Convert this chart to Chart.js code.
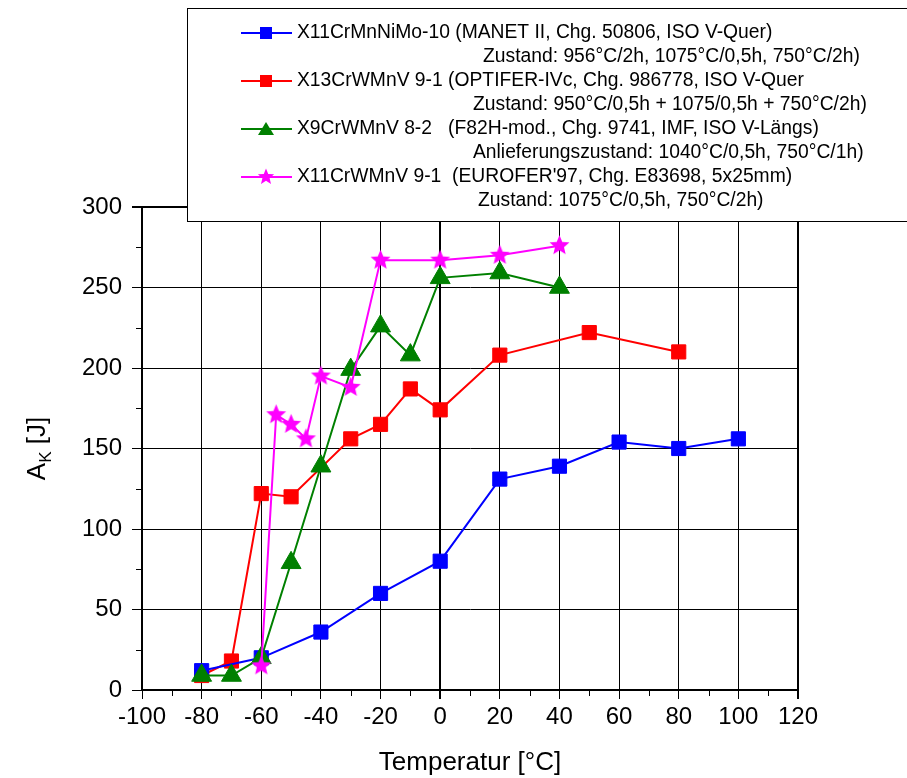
<!DOCTYPE html>
<html>
<head>
<meta charset="utf-8">
<script src="https://cdn.jsdelivr.net/npm/chart.js@4/dist/chart.umd.min.js"></script>
<style>
body { margin: 0; background: #fff; }
</style>
</head>
<body>
<canvas id="akChart" width="907" height="778"></canvas>
<script>
// 温度 [°C] と衝撃エネルギー A_K [J]
const tempManet = [-80, -60, -40, -20, 0, 20, 40, 60, 80, 100];
const akManet = [12, 20, 36, 60, 80, 131, 139, 154, 150, 156];

const tempOptifer = [-80, -70, -60, -50, -30, -20, -10, 0, 20, 50, 80];
const akOptifer = [9, 18, 122, 120, 156, 165, 187, 174, 208, 222, 210];

const tempF82h = [-80, -70, -60, -50, -40, -30, -20, -10, 0, 20, 40];
const akF82h = [9, 9, 20, 79, 139, 199, 226, 208, 256, 259, 250];

const tempEurofer = [-60, -55, -50, -45, -40, -30, -20, 0, 20, 40];
const akEurofer = [15, 171, 165, 156, 195, 188, 267, 267, 270, 276];

// 軸の目盛
const xTickValues = [-100, -80, -60, -40, -20, 0, 20, 40, 60, 80, 100, 120];
const yTickValues = [0, 50, 100, 150, 200, 250, 300];

// 凡例テキスト
const legendMain = [
    'X11CrMnNiMo-10 (MANET II, Chg. 50806, ISO V-Quer)',
    'X13CrWMnV 9-1 (OPTIFER-IVc, Chg. 986778, ISO V-Quer',
    'X9CrWMnV 8-2   (F82H-mod., Chg. 9741, IMF, ISO V-Längs)',
    'X11CrWMnV 9-1  (EUROFER\'97, Chg. E83698, 5x25mm)'
];
const legendSub = [
    'Zustand: 956°C/2h, 1075°C/0,5h, 750°C/2h)',
    'Zustand: 950°C/0,5h + 1075/0,5h + 750°C/2h)',
    'Anlieferungszustand: 1040°C/0,5h, 750°C/1h)',
    'Zustand: 1075°C/0,5h, 750°C/2h)'
];

const FONT = 'Arial, "Liberation Sans", sans-serif';

function toXY(xs, ys) {//{x,y}の配列にする
    return xs.map((x, i) => ({ x: x, y: ys[i] }));
}

function starPath(g, cx, cy, r1, r2) {//5角の星
    g.beginPath();
    for (let i = 0; i < 10; i++) {
        const r = i % 2 === 0 ? r1 : r2;
        const a = -Math.PI / 2 + i * Math.PI / 5;
        const px = cx + r * Math.cos(a);
        const py = cy + r * Math.sin(a);
        if (i === 0) g.moveTo(px, py); else g.lineTo(px, py);
    }
    g.closePath();
}

function makeStar(color, r) {
    const c = document.createElement('canvas');
    c.width = c.height = Math.ceil(r * 2 + 2);
    const g = c.getContext('2d');
    starPath(g, c.width / 2, c.height / 2, r, r * 0.45);
    g.fillStyle = color;
    g.fill();
    return c;
}

const starImg = makeStar('#ff00ff', 10.5);

// 副目盛
const minorTicks = {
    id: 'minorTicks',
    afterDraw(chart) {
        const ctx = chart.ctx;
        const xs = chart.scales.x;
        const ys = chart.scales.y;
        const area = chart.chartArea;
        ctx.save();
        ctx.strokeStyle = '#000';
        ctx.lineWidth = 1;
        ctx.beginPath();
        for (let v = -90; v < 120; v += 20) {
            const px = Math.round(xs.getPixelForValue(v)) + 0.5;
            ctx.moveTo(px, area.bottom);
            ctx.lineTo(px, area.bottom + 6);
        }
        for (let v = 25; v < 300; v += 50) {
            const py = Math.round(ys.getPixelForValue(v)) + 0.5;
            ctx.moveTo(area.left - 6, py);
            ctx.lineTo(area.left, py);
        }
        ctx.stroke();
        ctx.restore();
    }
};

// Y軸タイトル (A_K 下付き)
const yTitle = {
    id: 'yTitle',
    afterDraw(chart) {
        const ctx = chart.ctx;
        const area = chart.chartArea;
        const cy = (area.top + area.bottom) / 2;
        ctx.save();
        ctx.translate(38, cy);
        ctx.rotate(-Math.PI / 2);
        ctx.fillStyle = '#000';
        ctx.textBaseline = 'middle';
        ctx.font = '26px ' + FONT;
        const wA = ctx.measureText('A').width;
        const wRest = ctx.measureText(' [J]').width;
        ctx.font = '17px ' + FONT;
        const wK = ctx.measureText('K').width;
        let x = -(wA + wK + wRest) / 2;
        ctx.font = '26px ' + FONT;
        ctx.fillText('A', x, 0);
        x += wA;
        ctx.font = '17px ' + FONT;
        ctx.fillText('K', x, 8);
        x += wK;
        ctx.font = '26px ' + FONT;
        ctx.fillText(' [J]', x, 0);
        ctx.restore();
    }
};

function drawMarker(ctx, style, x, y, color) {//凡例のマーカー
    ctx.fillStyle = color;
    if (style === 'rect') {
        ctx.fillRect(x - 6, y - 6, 12, 12);
    } else if (style === 'triangle') {
        ctx.beginPath();
        ctx.moveTo(x, y - 7);
        ctx.lineTo(x + 8, y + 6);
        ctx.lineTo(x - 8, y + 6);
        ctx.closePath();
        ctx.fill();
    } else {
        starPath(ctx, x, y, 8.5, 3.8);
        ctx.fill();
    }
}

// 枠付き凡例
const boxLegend = {
    id: 'boxLegend',
    afterDraw(chart) {
        const ctx = chart.ctx;
        const subX = [483, 473, 473, 478];
        ctx.save();
        ctx.fillStyle = '#fff';
        ctx.fillRect(187, 8, 730, 214);
        ctx.strokeStyle = '#000';
        ctx.lineWidth = 1;
        ctx.strokeRect(187.5, 8.5, 730, 213);
        ctx.font = '19.3px ' + FONT;
        ctx.textBaseline = 'middle';
        chart.data.datasets.forEach((ds, i) => {
            const y = 33 + i * 48;
            ctx.strokeStyle = ds.borderColor;
            ctx.lineWidth = 2;
            ctx.beginPath();
            ctx.moveTo(241, y);
            ctx.lineTo(292, y);
            ctx.stroke();
            drawMarker(ctx, ds.legendMarker, 266, y, ds.borderColor);
            ctx.fillStyle = '#000';
            ctx.fillText(legendMain[i], 297, y);
            ctx.fillText(legendSub[i], subX[i], y + 24);
        });
        ctx.restore();
    }
};

function edgeWidth(ctx, edges) {//枠と0の線は太く
    const v = ctx.tick ? ctx.tick.value : null;
    return edges.includes(v) ? 2 : 1;
}

const chart = new Chart(document.getElementById('akChart'), {
    type: 'scatter',
    data: {
        datasets: [
            {
                label: legendMain[0],
                data: toXY(tempManet, akManet),
                borderColor: '#0000ff',
                backgroundColor: '#0000ff',
                pointStyle: 'rect',
                legendMarker: 'rect',
                pointRadius: 10,
                pointBorderWidth: 1,
                borderWidth: 2,
                showLine: true,
                order: 2
            },
            {
                label: legendMain[1],
                data: toXY(tempOptifer, akOptifer),
                borderColor: '#ff0000',
                backgroundColor: '#ff0000',
                pointStyle: 'rect',
                legendMarker: 'rect',
                pointRadius: 10,
                pointBorderWidth: 1,
                borderWidth: 2,
                showLine: true,
                order: 3
            },
            {
                label: legendMain[2],
                data: toXY(tempF82h, akF82h),
                borderColor: '#008000',
                backgroundColor: '#008000',
                pointStyle: 'triangle',
                legendMarker: 'triangle',
                pointRadius: 11.5,
                pointBorderWidth: 1,
                borderWidth: 2,
                showLine: true,
                order: 1
            },
            {
                label: legendMain[3],
                data: toXY(tempEurofer, akEurofer),
                borderColor: '#ff00ff',
                backgroundColor: '#ff00ff',
                pointStyle: starImg,
                legendMarker: 'star',
                pointRadius: 10,
                borderWidth: 2,
                showLine: true,
                order: 0
            }
        ]
    },
    options: {
        responsive: false,
        animation: false,
        devicePixelRatio: 1,
        layout: { padding: { top: 207, right: 109, bottom: 0, left: 0 } },
        plugins: {
            legend: { display: false },
            tooltip: { enabled: false }
        },
        scales: {
            x: {
                type: 'linear',
                min: -100,
                max: 120,
                afterFit: s => { s.height = 88; },
                afterBuildTicks: s => { s.ticks = xTickValues.map(v => ({ value: v })); },
                ticks: {
                    color: '#000',
                    font: { family: FONT, size: 24 },
                    padding: 4,
                    maxRotation: 0,
                    autoSkip: false
                },
                grid: {
                    color: '#000',
                    lineWidth: c => edgeWidth(c, [0, 120]),
                    tickLength: 9,
                    tickColor: '#000'
                },
                border: { color: '#000', width: 2 },
                title: {
                    display: true,
                    text: 'Temperatur [°C]',
                    color: '#000',
                    font: { family: FONT, size: 26 },
                    padding: 0
                }
            },
            y: {
                min: 0,
                max: 300,
                afterFit: s => { s.width = 142; },
                afterBuildTicks: s => { s.ticks = yTickValues.map(v => ({ value: v })); },
                ticks: {
                    color: '#000',
                    font: { family: FONT, size: 24 },
                    padding: 10
                },
                grid: {
                    color: '#000',
                    lineWidth: c => edgeWidth(c, [300]),
                    tickLength: 10,
                    tickColor: '#000'
                },
                border: { color: '#000', width: 2 }
            }
        }
    },
    plugins: [minorTicks, yTitle, boxLegend]
});
</script>
</body>
</html>
